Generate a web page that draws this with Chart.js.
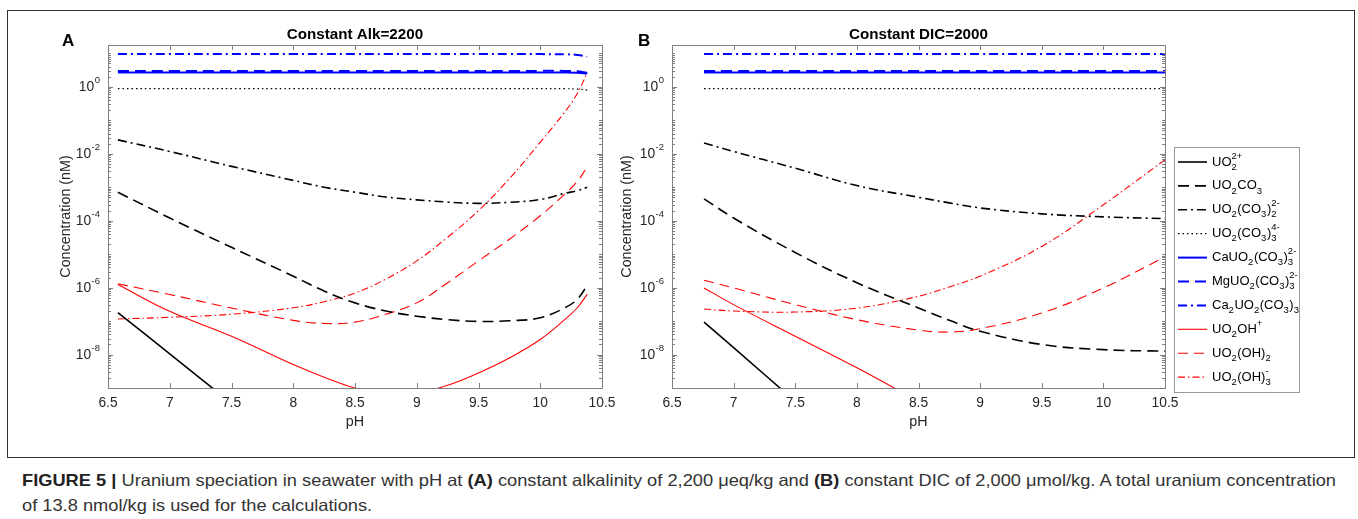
<!DOCTYPE html>
<html>
<head>
<meta charset="utf-8">
<script src="https://cdn.jsdelivr.net/npm/chart.js@4.4.1/dist/chart.umd.min.js"></script>
<style>
  body { margin: 0; background: #fff; width: 1358px; height: 519px; overflow: hidden; position: relative; font-family: "Liberation Sans", Arial, sans-serif; }
  #frame { position: absolute; left: 7px; top: 10px; width: 1346px; height: 446px; border: 1.5px solid #333; }
  .wrap { position: absolute; top: 0; }
  #wrapA { left: 0; }
  #wrapB { left: 560px; }
  #cap { position: absolute; left: 22px; top: 468px; font-size: 16.5px; line-height: 25px; color: #333; white-space: nowrap; transform-origin: 0 0; }
  #cap b { color: #222; }
</style>
</head>
<body>
<div id="frame"></div>
<div class="wrap" id="wrapA"><canvas id="chartA" width="640" height="440"></canvas></div>
<div class="wrap" id="wrapB"><canvas id="chartB" width="798" height="440"></canvas></div>
<div id="cap"><span id="line1"><b>FIGURE 5 |</b> Uranium speciation in seawater with pH at <b>(A)</b> constant alkalinity of 2,200 μeq/kg and <b>(B)</b> constant DIC of 2,000 μmol/kg. A total uranium concentration</span><br>of 13.8 nmol/kg is used for the calculations.</div>
<script>
// pH values where the curves were read
const phA = [6.58, 7.0, 7.5, 8.0, 8.25, 8.5, 8.75, 9.0, 9.25, 9.5, 9.75, 10.0, 10.2, 10.3, 10.38];
const phB = [6.76, 7.0, 7.5, 8.0, 8.5, 8.75, 9.0, 9.5, 10.0, 10.5];

const species = [
  "UO_2^{2+}", "UO_2CO_3", "UO_2(CO_3)_2^{2-}", "UO_2(CO_3)_3^{4-}",
  "CaUO_2(CO_3)_3^{2-}", "MgUO_2(CO_3)_3^{2-}", "Ca_2UO_2(CO_3)_3",
  "UO_2OH^+", "UO_2(OH)_2", "UO_2(OH)_3^-"
];

// panel A, constant Alk=2200 (nM)
const aUO2      = [1.8e-7, 1.05e-8, 3.5e-10, 1.2e-11, null, null, null, null, null, null, null, null, null, null, null];
const aUO2CO3   = [7.1e-4, 1.2e-4, 1.6e-5, 2.2e-6, 7.9e-7, 3.5e-7, 2.0e-7, 1.4e-7, 1.1e-7, 9.8e-8, 1.02e-7, 1.26e-7, 2.5e-7, 4.5e-7, 1.15e-6];
const aUO2CO3_2 = [2.6e-2, 1.17e-2, 4.2e-3, 1.6e-3, 1.0e-3, 7.1e-4, 5.1e-4, 4.2e-4, 3.6e-4, 3.3e-4, 3.55e-4, 4.3e-4, 6.6e-4, 7.9e-4, 1.0e-3];
const aUO2CO3_3 = [0.88, 0.88, 0.88, 0.88, 0.88, 0.88, 0.88, 0.88, 0.88, 0.88, 0.88, 0.88, 0.88, 0.86, 0.8];
const aCaU      = [2.7, 2.7, 2.7, 2.7, 2.7, 2.7, 2.7, 2.7, 2.7, 2.7, 2.7, 2.7, 2.7, 2.65, 2.5];
const aMgU      = [3.0, 3.0, 3.0, 3.0, 3.0, 3.0, 3.0, 3.0, 3.0, 3.0, 3.0, 3.0, 3.0, 2.9, 2.6];
const aCa2U     = [9.5, 9.5, 9.5, 9.5, 9.5, 9.5, 9.5, 9.5, 9.5, 9.5, 9.5, 9.5, 9.4, 9.0, 8.0];
const aOH       = [1.23e-6, 1.95e-7, 3.5e-8, 5.0e-9, 2.1e-9, 1.0e-9, 6.3e-10, 7.1e-10, 1.2e-9, 2.8e-9, 7.9e-9, 2.8e-8, 1.12e-7, 2.5e-7, 6.3e-7];
const aOH2      = [1.3e-6, 6.2e-7, 2.45e-7, 1.05e-7, 8.5e-8, 9.3e-8, 1.6e-7, 3.5e-7, 1.4e-6, 6.3e-6, 2.8e-5, 1.4e-4, 6.3e-4, 1.5e-3, 4.0e-3];
const aOH3      = [1.15e-7, 1.3e-7, 1.6e-7, 2.5e-7, 3.8e-7, 6.9e-7, 1.8e-6, 6.3e-6, 3.2e-5, 2.0e-4, 1.8e-3, 2.2e-2, 0.18, 0.63, 2.6];

// panel B, constant DIC=2000 (nM)
const bUO2      = [9.3e-8, 1.6e-8, 4.0e-10, null, null, null, null, null, null, null];
const bUO2CO3   = [4.5e-4, 1.2e-4, 1.12e-5, 1.4e-6, 2.45e-7, 1.05e-7, 5.0e-8, 2.0e-8, 1.4e-8, 1.26e-8];
const bUO2CO3_2 = [2.1e-2, 1.17e-2, 3.7e-3, 1.12e-3, 5.0e-4, 3.4e-4, 2.4e-4, 1.6e-4, 1.3e-4, 1.15e-4];
const bUO2CO3_3 = [0.88, 0.88, 0.88, 0.88, 0.88, 0.88, 0.88, 0.88, 0.88, 0.88];
const bCaU      = [2.7, 2.7, 2.7, 2.7, 2.7, 2.7, 2.7, 2.7, 2.7, 2.7];
const bMgU      = [3.0, 3.0, 3.0, 3.0, 3.0, 3.0, 3.0, 3.0, 3.0, 3.0];
const bCa2U     = [9.5, 9.5, 9.5, 9.5, 9.5, 9.5, 9.5, 9.5, 9.5, 9.5];
const bOH       = [9.8e-7, 3.1e-7, 3.5e-8, 4.0e-9, 4.0e-10, null, null, null, null, null];
const bOH2      = [1.66e-6, 9.8e-7, 3.1e-7, 1.1e-7, 5.4e-8, 4.7e-8, 5.9e-8, 1.74e-7, 9.8e-7, 8.3e-6];
const bOH3      = [2.3e-7, 2.0e-7, 1.86e-7, 2.45e-7, 5.5e-7, 1.05e-6, 2.2e-6, 1.7e-5, 3.0e-4, 6.6e-3];

const xTicks = [6.5, 7, 7.5, 8, 8.5, 9, 9.5, 10, 10.5];
const yTicks = [1e-8, 1e-6, 1e-4, 1e-2, 1];

// line styles, same order as species
const styles = [
  { color: "#000000", dash: [], width: 1.6 },
  { color: "#000000", dash: [11, 6], width: 1.6 },
  { color: "#000000", dash: [9, 4, 2, 4], width: 1.6 },
  { color: "#000000", dash: [1.5, 3], width: 1.2 },
  { color: "#0000ff", dash: [], width: 2 },
  { color: "#0000ff", dash: [11, 6], width: 2 },
  { color: "#0000ff", dash: [9, 4, 2, 4], width: 2 },
  { color: "#ff0000", dash: [], width: 1.1 },
  { color: "#ff0000", dash: [10, 6], width: 1.1 },
  { color: "#ff0000", dash: [7, 3, 1.5, 3], width: 1.1 }
];

const FONT = "'Liberation Sans', Arial, sans-serif";
const AXIS_GRAY = "#7f7f7f";
const TEXT = "#262626";

// tiny parser for _sub and ^sup markup
function parseRich(s) {
  const out = [];
  let i = 0;
  while (i < s.length) {
    const c = s[i];
    if (c === "_" || c === "^") {
      i++;
      let t;
      if (s[i] === "{") { const j = s.indexOf("}", i); t = s.slice(i + 1, j); i = j + 1; }
      else { t = s[i]; i++; }
      out.push({ t, m: c === "_" ? "sub" : "sup" });
    } else {
      let j = i;
      while (j < s.length && s[j] !== "_" && s[j] !== "^") j++;
      out.push({ t: s.slice(i, j), m: "n" });
      i = j;
    }
  }
  return out;
}

function drawRich(ctx, s, x, y) {
  const parts = parseRich(s);
  ctx.textBaseline = "middle";
  ctx.textAlign = "left";
  let k = 0;
  while (k < parts.length) {
    const p = parts[k];
    if (p.m === "n") {
      ctx.font = "13px " + FONT;
      ctx.fillText(p.t, x, y);
      x += ctx.measureText(p.t).width;
      k++;
    } else {
      ctx.font = "9.5px " + FONT;
      let w = 0;
      if (p.m === "sub") {
        ctx.fillText(p.t, x, y + 5);
        w = ctx.measureText(p.t).width;
        if (parts[k + 1] && parts[k + 1].m === "sup") {
          ctx.fillText(parts[k + 1].t, x, y - 6);
          w = Math.max(w, ctx.measureText(parts[k + 1].t).width);
          k++;
        }
      } else {
        ctx.fillText(p.t, x, y - 6);
        w = ctx.measureText(p.t).width;
      }
      x += w + 0.5;
      k++;
    }
  }
}

// MATLAB-like axes: box, inward ticks, 10^n labels, title, panel letter, legend
const matlabAxes = {
  id: "matlabAxes",
  afterDraw(chart, args, opts) {
    const ctx = chart.ctx;
    const { left, right, top, bottom } = chart.chartArea;
    const xs = chart.scales.x, ys = chart.scales.y;
    ctx.save();
    ctx.strokeStyle = AXIS_GRAY;
    ctx.lineWidth = 1;
    ctx.setLineDash([]);
    ctx.strokeRect(Math.round(left) + 0.5, Math.round(top) + 0.5, Math.round(right - left), Math.round(bottom - top));
    ctx.beginPath();
    xTicks.forEach(v => {
      const px = Math.round(xs.getPixelForValue(v)) + 0.5;
      ctx.moveTo(px, bottom); ctx.lineTo(px, bottom - 5);
      ctx.moveTo(px, top); ctx.lineTo(px, top + 5);
    });
    for (let e = -9; e <= 1; e++) {
      for (let m = 1; m <= 9; m++) {
        const v = m * Math.pow(10, e);
        if (v < ys.min || v > ys.max) continue;
        const major = m === 1 && e % 2 === 0;
        const len = major ? 5 : 3;
        const py = Math.round(ys.getPixelForValue(v)) + 0.5;
        ctx.moveTo(left, py); ctx.lineTo(left + len, py);
        ctx.moveTo(right, py); ctx.lineTo(right - len, py);
      }
    }
    ctx.stroke();

    ctx.fillStyle = TEXT;
    yTicks.forEach(v => {
      const py = ys.getPixelForValue(v);
      const sup = String(Math.round(Math.log10(v)));
      ctx.font = "9.5px " + FONT;
      const sw = ctx.measureText(sup).width;
      ctx.textBaseline = "middle";
      ctx.textAlign = "right";
      ctx.fillText(sup, left - 8, py - 6);
      ctx.font = "13.8px " + FONT;
      ctx.fillText("10", left - 8 - sw - 0.5, py + 0.5);
    });

    ctx.textAlign = "center";
    ctx.textBaseline = "alphabetic";
    ctx.fillStyle = "#000";
    ctx.font = "bold 15.2px " + FONT;
    ctx.fillText(opts.title, (left + right) / 2, 39);
    ctx.textAlign = "left";
    ctx.font = "bold 17px " + FONT;
    ctx.fillText(opts.letter, opts.letterX, 46);

    if (opts.legend) {
      const L = opts.legend;
      ctx.fillStyle = "#fff";
      ctx.fillRect(L.x, L.y, L.w, L.h);
      ctx.strokeStyle = "#9a9a9a";
      ctx.strokeRect(L.x + 0.5, L.y + 0.5, L.w, L.h);
      chart.data.datasets.forEach((ds, i) => {
        const ry = L.y + 15 + i * 23.9;
        ctx.strokeStyle = ds.borderColor;
        ctx.lineWidth = ds.borderWidth;
        ctx.setLineDash(ds.borderDash);
        ctx.beginPath();
        ctx.moveTo(L.x + 4, ry); ctx.lineTo(L.x + 33, ry);
        ctx.stroke();
        ctx.setLineDash([]);
        ctx.fillStyle = "#000";
        drawRich(ctx, species[i], L.x + 38, ry);
      });
    }
    ctx.restore();
  }
};

function makeChart(canvasId, ph, series, opts) {
  const datasets = series.map((vals, i) => ({
    label: species[i],
    data: ph.map((x, j) => ({ x, y: vals[j] })),
    borderColor: styles[i].color,
    borderDash: styles[i].dash,
    borderWidth: styles[i].width,
    pointRadius: 0,
    fill: false,
    tension: 0.4,
    spanGaps: false
  }));
  return new Chart(document.getElementById(canvasId), {
    type: "line",
    data: { datasets },
    plugins: [matlabAxes],
    options: {
      responsive: false,
      animation: false,
      layout: { padding: { left: 0, top: 45, right: opts.padRight, bottom: 0 } },
      plugins: {
        legend: { display: false },
        tooltip: { enabled: false },
        matlabAxes: opts
      },
      scales: {
        x: {
          type: "linear", min: 6.5, max: 10.5,
          afterBuildTicks: s => { s.ticks = xTicks.map(v => ({ value: v })); },
          afterFit: s => { s.height = 52; },
          grid: { display: false, drawTicks: false },
          border: { display: false },
          ticks: { padding: 7, color: TEXT, font: { family: FONT, size: 13.8 }, callback: v => String(v), maxRotation: 0 },
          title: { display: true, text: "pH", color: TEXT, font: { family: FONT, size: 14.3 }, padding: { top: 0, bottom: 9.4 } }
        },
        y: {
          type: "logarithmic", min: 1e-9, max: 17.8,
          afterBuildTicks: s => { s.ticks = yTicks.map(v => ({ value: v })); },
          afterFit: s => { s.width = opts.axisLeft; },
          grid: { display: false, drawTicks: false },
          border: { display: false },
          ticks: { display: false },
          title: { display: true, text: "Concentration (nM)", color: TEXT, font: { family: FONT, size: 14.3 }, padding: { top: opts.titlePad, bottom: 0 } }
        }
      }
    }
  });
}

makeChart("chartA", phA,
  [aUO2, aUO2CO3, aUO2CO3_2, aUO2CO3_3, aCaU, aMgU, aCa2U, aOH, aOH2, aOH3],
  { title: "Constant Alk=2200", letter: "A", letterX: 62, axisLeft: 108, padRight: 38, titlePad: 57 });

makeChart("chartB", phB,
  [bUO2, bUO2CO3, bUO2CO3_2, bUO2CO3_3, bCaU, bMgU, bCa2U, bOH, bOH2, bOH3],
  { title: "Constant DIC=2000", letter: "B", letterX: 78, axisLeft: 112, padRight: 193, titlePad: 58,
    legend: { x: 614, y: 147, w: 125, h: 245 } });

// condense the first caption line to the figure width
const line1 = document.getElementById("line1");
const cap = document.getElementById("cap");
const w1 = line1.getBoundingClientRect().width;
cap.style.transform = "scaleX(" + (1314 / w1) + ")";
</script>
</body>
</html>
